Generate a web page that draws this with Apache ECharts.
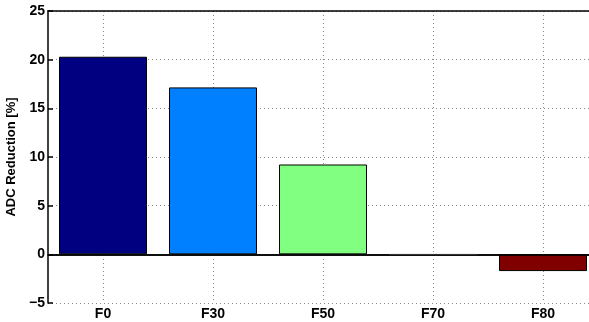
<!DOCTYPE html>
<html>
<head>
<meta charset="utf-8">
<script src="https://cdn.jsdelivr.net/npm/echarts@6/dist/echarts.min.js"></script>
<style>
  html, body { margin: 0; padding: 0; background: #fff; }
  #chart { width: 589px; height: 322px; }
</style>
</head>
<body>
<div id="chart"></div>
<script>
const categories = ['F0', 'F30', 'F50', 'F70', 'F80']
const reduction = [20.3, 17.15, 9.23, 0, -1.72]
const barColors = ['#000080', '#0080ff', '#80ff80', '#ff8000', '#800000']
const yTicks = { min: -5, max: 25, step: 5 }

const chart = echarts.init(document.getElementById('chart'))

const font = 'Liberation Sans, Arial, Helvetica, sans-serif'
const gridLine = { show: true, lineStyle: { color: '#888', type: [1, 3], width: 1 } }

const option = {
  animation: false,
  grid: { left: 48, top: 11, width: 550, height: 292, outerBoundsMode: 'none', containLabel: false },
  xAxis: [
    {
      type: 'category',
      data: categories,
      position: 'bottom',
      axisLine: { lineStyle: { color: '#000', width: 1.5 } },
      axisTick: { inside: true, alignWithLabel: true, length: 5, lineStyle: { color: '#000', width: 1.5 } },
      axisLabel: { color: '#000', fontWeight: 'bold', fontSize: 14, fontFamily: font, margin: 4 },
      splitLine: Object.assign({ alignWithLabel: true }, gridLine)
    },
    {
      type: 'category',
      data: categories,
      position: 'top',
      axisLine: { lineStyle: { color: '#000', width: 1.5 } },
      axisTick: { inside: true, alignWithLabel: true, length: 5, lineStyle: { color: '#000', width: 1.5 } },
      axisLabel: { show: false },
      splitLine: { show: false }
    }
  ],
  yAxis: {
    type: 'value',
    min: yTicks.min,
    max: yTicks.max,
    interval: yTicks.step,
    name: 'ADC Reduction [%]',
    nameLocation: 'middle',
    nameGap: 24,
    nameTextStyle: { color: '#000', fontWeight: 'bold', fontSize: 13, fontFamily: font },
    axisLine: { show: true, lineStyle: { color: '#000', width: 1.5 } },
    axisTick: { show: true, inside: true, length: 5, lineStyle: { color: '#000', width: 1.5 } },
    axisLabel: {
      color: '#000', fontWeight: 'bold', fontSize: 14, fontFamily: font, margin: 3,
      formatter: v => String(v).replace('-', '\u2212')
    },
    splitLine: gridLine
  },
  series: [
    {
      type: 'bar',
      xAxisIndex: 0,
      barWidth: 88,
      data: reduction.map((v, i) => ({
        value: v,
        itemStyle: { color: barColors[i], borderColor: v === 0 ? '#ccc' : '#000', borderWidth: 1 }
      })),
      markLine: {
        silent: true,
        symbol: 'none',
        label: { show: false },
        lineStyle: { color: '#000', type: 'solid', width: 1.5 },
        data: [{ yAxis: 0 }]
      }
    }
  ]
}

chart.setOption(option)
</script>
</body>
</html>
